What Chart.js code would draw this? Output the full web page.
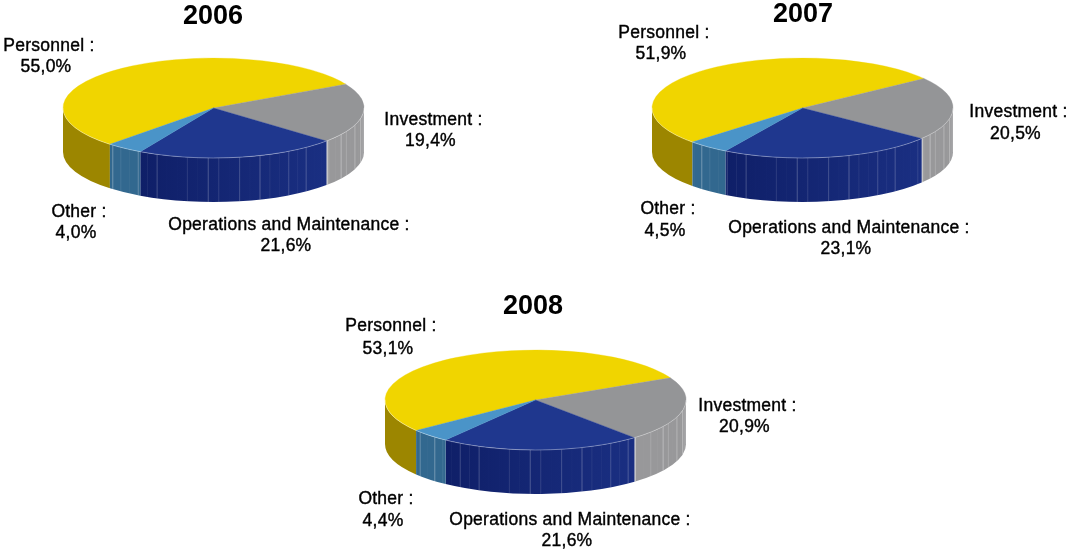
<!DOCTYPE html>
<html>
<head>
<meta charset="utf-8">
<style>
html,body{margin:0;padding:0;background:#fff;width:1070px;height:549px;overflow:hidden}
canvas{position:absolute;display:block}
</style>
<script src="https://cdn.jsdelivr.net/npm/chart.js@4"></script>
</head>
<body>
<canvas id="c2006" width="535" height="270" style="left:0;top:0"></canvas>
<canvas id="c2007" width="535" height="270" style="left:535px;top:0"></canvas>
<canvas id="c2008" width="540" height="274" style="left:270px;top:275px"></canvas>
<script>
const categories = ['Personnel', 'Investment', 'Operations and Maintenance', 'Other'];
const values2006 = [55.0, 19.4, 21.6, 4.0];
const values2007 = [51.9, 20.5, 23.1, 4.5];
const values2008 = [53.1, 20.9, 21.6, 4.4];

const topColors  = ['#f0d500', '#949597', '#1f378e', '#4a94c8'];
const wallLeft   = ['#9c8600', '#98989a', '#1a2f82', '#32688f'];
const wallRight  = ['#9c8600', '#98989a', '#0f1f68', '#32688f'];
const facetGain  = [0, 1.1, 0.8, 1];
const facetAlpha = [0.30, 0.06, 0.12, 0.40, 0.04, 0.32, 0.03, 0.20, 0.38, 0.05, 0.18, 0.03, 0.03, 0.35, 0.10];

const RX = 150.5, RATIO = 50 / 150.5, DEPTH = 44;

const panels = [
  { id: 'c2006', year: '2006', values: values2006, rotation: 223.5, cx: 213.5, cy: 108, ox: 0, oy: 0,
    titleAt: [213, 16.5],
    labelAt: [[49, 46, 67.5], [433.5, 120, 141.5], [289, 225, 246.5], [79, 212, 233.5]] },
  { id: 'c2007', year: '2007', values: values2007, rotation: 227, cx: 802.5, cy: 108, ox: 535, oy: 0,
    titleAt: [803, 14.5],
    labelAt: [[664, 33, 54.5], [1018.5, 112, 134], [849, 228, 249.5], [668, 209, 231]] },
  { id: 'c2008', year: '2008', values: values2008, rotation: 232.5, cx: 535.5, cy: 400, ox: 270, oy: 275,
    titleAt: [533, 306.5],
    labelAt: [[391, 326.5, 349], [747.5, 406, 427.5], [570, 520, 541.5], [386, 499, 521]] }
];

function frontRange(a0, a1) {
  const TAU = Math.PI * 2;
  for (const k of [-1, 0, 1, 2]) {
    const s = Math.max(a0, k * TAU), e = Math.min(a1, k * TAU + Math.PI);
    if (e > s) return [s, e];
  }
  return null;
}

const pie3d = {
  id: 'pie3d',
  beforeDatasetsDraw(chart) {
    const ctx = chart.ctx, arcs = chart.getDatasetMeta(0).data;
    const cx = arcs[0].x, cy = arcs[0].y, ry = RX * RATIO;
    arcs.forEach((arc, i) => {
      const r = frontRange(arc.startAngle, arc.endAngle);
      if (!r) return;
      const [s, e] = r;
      ctx.save();
      ctx.beginPath();
      ctx.ellipse(cx, cy, RX, ry, 0, s, e);
      ctx.ellipse(cx, cy + DEPTH, RX, ry, 0, e, s, true);
      ctx.closePath();
      const g = ctx.createLinearGradient(cx + RX * Math.cos(s), 0, cx + RX * Math.cos(e), 0);
      g.addColorStop(0, wallLeft[i]);
      g.addColorStop(1, wallRight[i]);
      ctx.fillStyle = g;
      ctx.fill();
      ctx.clip();
      const step = Math.PI / 45;
      ctx.lineWidth = 0.8;
      let n = Math.ceil(s / step);
      for (; n * step < e; n++) {
        const a = n * step, x = cx + RX * Math.cos(a), y = cy + ry * Math.sin(a);
        const idx = ((n % facetAlpha.length) + facetAlpha.length) % facetAlpha.length;
        ctx.strokeStyle = 'rgba(255,255,255,' + facetAlpha[idx] * facetGain[i] + ')';
        ctx.beginPath();
        ctx.moveTo(x, y);
        ctx.lineTo(x, y + DEPTH);
        ctx.stroke();
      }
      if (i === 1) {
        const x = cx + RX * Math.cos(e), y = cy + ry * Math.sin(e);
        ctx.strokeStyle = 'rgba(255,255,255,0.45)';
        ctx.lineWidth = 2;
        ctx.beginPath();
        ctx.moveTo(x + 0.5, y);
        ctx.lineTo(x + 0.5, y + DEPTH);
        ctx.stroke();
      }
      ctx.restore();
    });
    // squash the library's own pie into the ellipse of the top face
    ctx.save();
    ctx.translate(0, cy);
    ctx.scale(1, RATIO);
    ctx.translate(0, -cy);
  },
  afterDatasetsDraw(chart) {
    const ctx = chart.ctx, arcs = chart.getDatasetMeta(0).data;
    ctx.restore();
    const cx = arcs[0].x, cy = arcs[0].y, ry = RX * RATIO;
    ctx.save();
    ctx.strokeStyle = 'rgba(255,255,255,0.4)';
    ctx.lineWidth = 0.8;
    ctx.beginPath();
    ctx.ellipse(cx, cy, RX, ry, 0, 0, Math.PI);
    ctx.stroke();
    ctx.restore();
  },
  afterDraw(chart) {
    const ctx = chart.ctx, p = chart.options.plugins.pie3d.panel;
    ctx.save();
    ctx.textBaseline = 'middle';
    ctx.textAlign = 'center';
    ctx.fillStyle = '#000';
    ctx.font = 'bold 27px "Liberation Sans", Arial, sans-serif';
    ctx.fillText(p.year, p.titleAt[0] - p.ox, p.titleAt[1] - p.oy);
    ctx.font = '17.5px "Liberation Sans", Arial, sans-serif';
    ctx.letterSpacing = '0.25px';
    ctx.strokeStyle = '#000';
    ctx.lineWidth = 0.4;
    categories.forEach((c, i) => {
      const [x, y1, y2] = p.labelAt[i];
      const a = c + ' :', b = p.values[i].toFixed(1).replace('.', ',') + '%';
      ctx.fillText(a, x - p.ox, y1 - p.oy);
      ctx.strokeText(a, x - p.ox, y1 - p.oy);
      ctx.fillText(b, x - 3 - p.ox, y2 - p.oy);
      ctx.strokeText(b, x - 3 - p.ox, y2 - p.oy);
    });
    ctx.restore();
  }
};

panels.forEach(p => {
  const canvas = document.getElementById(p.id);
  const W = canvas.width, H = canvas.height;
  const x = p.cx - p.ox, y = p.cy - p.oy;
  const half = Math.min(x, W - x), halfY = Math.min(y, H - y);
  new Chart(canvas, {
    type: 'pie',
    data: {
      labels: categories,
      datasets: [{
        data: p.values,
        backgroundColor: topColors,
        borderColor: topColors,
        borderWidth: 0.5,
        clip: false
      }]
    },
    options: {
      responsive: false,
      animation: false,
      rotation: p.rotation,
      radius: RX,
      layout: { padding: {
        left: x - half, right: W - x - half,
        top: y - halfY, bottom: H - y - halfY
      } },
      plugins: {
        legend: { display: false },
        tooltip: { enabled: false },
        title: { display: false },
        pie3d: { panel: p }
      }
    },
    plugins: [pie3d]
  });
});
</script>
</body>
</html>
